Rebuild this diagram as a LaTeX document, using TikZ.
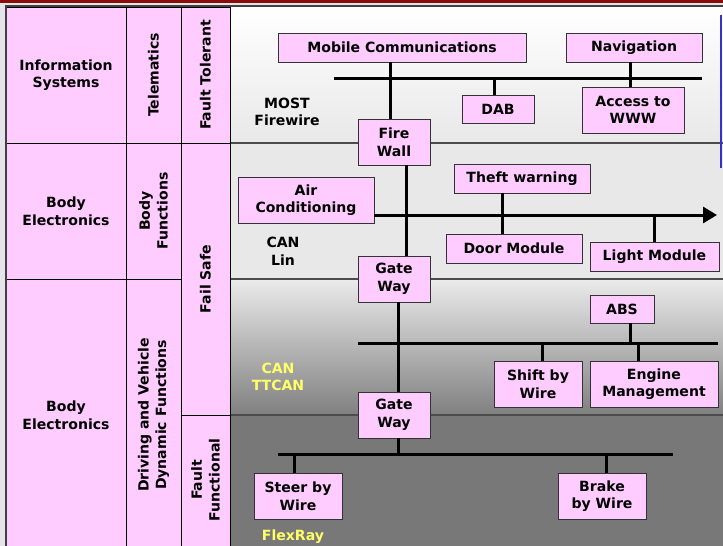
\documentclass[tikz,border=0pt]{standalone}
\usepackage{fontspec}
\setmainfont{DejaVu Sans}
\usepackage{tikz}
\usetikzlibrary{positioning, arrows.meta, shapes, calc}
\usepackage{xcolor}
\definecolor{pinkfill}{HTML}{FFCCFF}
\definecolor{pagegray}{HTML}{E4E4EA}
\definecolor{topred}{HTML}{8B0A0A}
\definecolor{netyellow}{HTML}{FFFF66}
\definecolor{edgeblue}{HTML}{3333CC}
\tikzset{
    ecu/.style={
        rectangle, draw=black!80, line width=0.8pt,
        fill=pinkfill, inner sep=0pt,
        align=center
    },
    oneline/.style={
        ecu, minimum height=0.87cm
    },
    twoline/.style={
        ecu, minimum height=1.38cm
    },
    bus/.style={
        line width=0.9mm
    },
    cell/.style={
        draw=black, line width=0.6pt, fill=pinkfill
    },
    netname/.style={
        align=center
    },
    separator/.style={
        draw=black!70, line width=0.5mm
    }
}

\begin{document}
\begin{tikzpicture}[
    x=0.3mm, y=-0.3mm,
    every node/.style={font=\fontsize{12}{15}\selectfont\bfseries},
    celltext/.style={align=center},
    arrowtip/.style={-{Triangle[length=4.2mm, width=4.8mm]}}
]

\useasboundingbox (0,0) rectangle (723,546);
\fill[pagegray] (0,0) rectangle (723,546);
\fill[topred] (0,0) rectangle (723,3);

% bands
\shade[top color=white, bottom color=black!9] (230,7) rectangle (723,143);
\fill[black!9] (230,143) rectangle (723,279);
\shade[top color=black!8, bottom color=black!50] (230,279) rectangle (723,415);
\fill[black!53] (230,415) rectangle (723,546);
\draw[separator] (230,143) -- (723,143);
\draw[separator] (230,279) -- (723,279);
\draw[separator] (230,415) -- (723,415);
\draw[edgeblue, line width=0.7mm] (721,15) -- (721,168);

% table
\draw[cell] (6,7) rectangle (126,143);
\draw[cell] (6,143) rectangle (126,279);
\draw[cell] (6,279) rectangle (126,546);
\draw[cell] (126,7) rectangle (181,143);
\draw[cell] (126,143) rectangle (181,279);
\draw[cell] (126,279) rectangle (181,546);
\draw[cell] (181,7) rectangle (230,143);
\draw[cell] (181,143) rectangle (230,415);
\draw[cell] (181,415) rectangle (230,546);
\draw[black!75, line width=0.6mm] (6,546) -- (6,6) -- (723,6);

\node[celltext] (info) at (66,75) {Information\\Systems};
\node[celltext] (body1) at (66,211) {Body\\Electronics};
\node[celltext] (body2) at (66,415) {Body\\Electronics};
\node[celltext, rotate=90] (telem) at (153.5,75) {Telematics};
\node[celltext, rotate=90] (bodyfn) at (153.5,211) {Body\\Functions};
\node[celltext, rotate=90] (driving) at (153.5,415) {Driving and Vehicle\\Dynamic Functions};
\node[celltext, rotate=90] (tolerant) at (205.5,75) {Fault Tolerant};
\node[celltext, rotate=90] (failsafe) at (205.5,279) {Fail Safe};
\node[celltext, rotate=90] (functional) at (205.5,480) {Fault\\Functional};

% networks
\node[netname] (most) at (287,112) {MOST\\Firewire};
\node[netname] (canlin) at (283,251) {CAN\\Lin};
\node[netname, text=netyellow] (ttcan) at (278,377) {CAN\\TTCAN};
\node[netname, text=netyellow] (flexray) at (293,537) {FlexRay};

% control units
\node[oneline, minimum width=7.44cm] (mobcom) at (402,47.5) {Mobile Communications};
\node[oneline, minimum width=4.08cm] (nav) at (634,47.5) {Navigation};
\node[oneline, minimum width=2.16cm, minimum height=0.84cm] (dab) at (498,109) {DAB};
\node[twoline, minimum width=3.06cm] (www) at (633,110) {Access to\\WWW};
\node[twoline, minimum width=2.16cm] (firewall) at (394,142) {Fire\\Wall};
\node[oneline, minimum width=4.08cm] (theft) at (522,178.5) {Theft warning};
\node[twoline, minimum width=4.08cm] (aircon) at (306,200) {Air\\Conditioning};
\node[oneline, minimum width=4.08cm] (door) at (514,248.5) {Door Module};
\node[oneline, minimum width=3.87cm] (light) at (654.5,256.5) {Light Module};
\node[twoline, minimum width=2.16cm] (gw1) at (394,279) {Gate\\Way};
\node[oneline, minimum width=1.92cm, minimum height=0.84cm] (abs) at (622,309) {ABS};
\node[twoline, minimum width=2.64cm] (shift) at (538,384) {Shift by\\Wire};
\node[twoline, minimum width=3.84cm] (engine) at (654,384) {Engine\\Management};
\node[twoline, minimum width=2.16cm] (gw2) at (394,415) {Gate\\Way};
\node[twoline, minimum width=2.64cm] (steer) at (298,496) {Steer by\\Wire};
\node[twoline, minimum width=2.64cm] (brake) at (602,496) {Brake\\by Wire};

% MOST bus
\coordinate (mostL) at (334,79);
\coordinate (mostR) at (702,79);
\coordinate (tapMob) at (390,79);
\coordinate (tapDab) at (494,79);
\coordinate (tapNav) at (630,79);
\draw[bus] (mostL) -- (mostR);
\draw[bus] (mobcom.south -| tapMob) -- (firewall.north -| tapMob);
\draw[bus] (tapDab) -- (dab.north -| tapDab);
\draw[bus] (nav.south -| tapNav) -- (www.north -| tapNav);

% CAN bus
\coordinate (canR) at (717,215);
\coordinate (tapFw) at (406,215);
\coordinate (tapTheft) at (502,215);
\coordinate (tapLight) at (654,215);
\draw[bus, arrowtip] (aircon.east |- canR) -- (canR);
\draw[bus] (firewall.south -| tapFw) -- (gw1.north -| tapFw);
\draw[bus] (theft.south -| tapTheft) -- (door.north -| tapTheft);
\draw[bus] (tapLight) -- (light.north -| tapLight);

% TTCAN bus
\coordinate (ttL) at (358,343);
\coordinate (ttR) at (718,343);
\coordinate (tapGw) at (398,343);
\coordinate (tapAbs) at (630,343);
\coordinate (tapShift) at (542,343);
\coordinate (tapEngine) at (638,343);
\draw[bus] (ttL) -- (ttR);
\draw[bus] (gw1.south -| tapGw) -- (gw2.north -| tapGw);
\draw[bus] (abs.south -| tapAbs) -- (tapAbs);
\draw[bus] (tapShift) -- (shift.north -| tapShift);
\draw[bus] (tapEngine) -- (engine.north -| tapEngine);

% FlexRay bus
\coordinate (flexL) at (278,454);
\coordinate (flexR) at (673,454);
\coordinate (tapGw2) at (398,454);
\coordinate (tapSteer) at (294,454);
\coordinate (tapBrake) at (606,454);
\draw[bus] (flexL) -- (flexR);
\draw[bus] (gw2.south -| tapGw2) -- (tapGw2);
\draw[bus] (tapSteer) -- (steer.north -| tapSteer);
\draw[bus] (tapBrake) -- (brake.north -| tapBrake);

\end{tikzpicture}
\end{document}
